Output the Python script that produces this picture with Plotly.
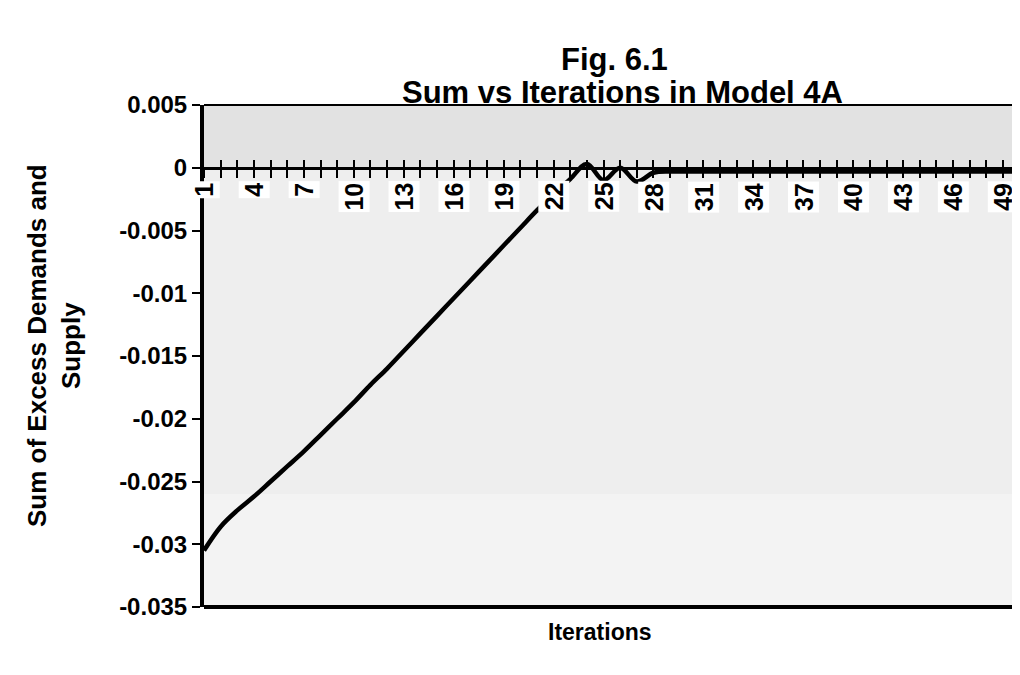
import plotly.graph_objects as go

# ---- data ----
iterations = list(range(1, 51))
sum_excess = [
    -0.0305, -0.0286, -0.0273, -0.0262, -0.0250, -0.0238, -0.0226, -0.0213, -0.0200, -0.0187,
    -0.0173, -0.0160, -0.0146, -0.0132, -0.0118, -0.0104, -0.0090, -0.0076, -0.0062, -0.0048,
    -0.0034, -0.0021, -0.0009, 0.0003, -0.0010, 0.0000, -0.0011, -0.0004, -0.0003, -0.0003,
    -0.0003, -0.0003, -0.0003, -0.0003, -0.0003, -0.0003, -0.0003, -0.0003, -0.0003, -0.0003,
    -0.0003, -0.0003, -0.0003, -0.0003, -0.0003, -0.0003, -0.0003, -0.0003, -0.0003, -0.0003,
]
x_tick_labels = ["1", "4", "7", "10", "13", "16", "19", "22", "25", "28", "31", "34",
                 "37", "40", "43", "46", "49"]
y_tick_values = [0.005, 0, -0.005, -0.01, -0.015, -0.02, -0.025, -0.03, -0.035]
y_tick_labels = ["0.005", "0", "-0.005", "-0.01", "-0.015", "-0.02", "-0.025", "-0.03", "-0.035"]

title_line1 = "Fig. 6.1"
title_line2 = "Sum vs Iterations in Model 4A"
x_title = "Iterations"
y_title = "Sum of Excess Demands and<br>Supply"

FONT = "Liberation Sans, Arial, sans-serif"
Y_MIN, Y_MAX = -0.035, 0.005
X_MIN, X_MAX = 1, 50.5

# page is drawn with an 8px body margin; layout values are figure pixels
ML, MT, MB, MR = 196, 97, 76, 0
W, H = 1020, 675
plot_w = W - ML - MR
plot_h = H - MT - MB

fig = go.Figure()

fig.add_trace(go.Scatter(
    x=iterations, y=sum_excess, mode="lines",
    line=dict(color="black", width=4.5, shape="spline", smoothing=1.0),
    showlegend=False, hoverinfo="x+y",
))

zero_pos = (0 - Y_MIN) / (Y_MAX - Y_MIN)

fig.update_layout(
    width=W, height=H,
    margin=dict(l=ML, r=MR, t=MT, b=MB, pad=0),
    paper_bgcolor="white",
    plot_bgcolor="#eeeeee",
    font=dict(family=FONT, color="black"),
    xaxis=dict(
        range=[X_MIN, X_MAX], anchor="free", position=zero_pos,
        showgrid=False, zeroline=False,
        showline=True, linecolor="black", linewidth=3,
        tickmode="linear", tick0=1, dtick=3,
        ticks="outside", ticklen=8, tickwidth=2, tickcolor="black",
        showticklabels=False,
        minor=dict(dtick=1, tick0=1, ticks="outside", ticklen=8, tickwidth=2, tickcolor="black"),
    ),
    xaxis2=dict(
        range=[X_MIN, X_MAX], anchor="free", position=zero_pos, overlaying="x",
        showgrid=False, zeroline=False, showline=False,
        tickmode="linear", tick0=1, dtick=1,
        ticks="inside", ticklen=8, tickwidth=2, tickcolor="black",
        showticklabels=False,
    ),
    yaxis=dict(
        range=[Y_MIN, Y_MAX], showgrid=False, zeroline=False,
        showline=True, linecolor="black", linewidth=4,
        tickmode="array", tickvals=y_tick_values, ticktext=y_tick_labels,
        ticks="outside", ticklen=8, tickwidth=2, tickcolor="black",
        tickfont=dict(size=24, family=FONT, weight="bold"),
    ),
)

fig.add_trace(go.Scatter(x=[X_MIN], y=[None], xaxis="x2", showlegend=False, hoverinfo="skip"))

# background shading
fig.add_shape(type="rect", xref="x domain", yref="y", x0=0, x1=1, y0=0, y1=Y_MAX,
              fillcolor="#e2e2e2", line_width=0, layer="below")
fig.add_shape(type="rect", xref="x domain", yref="y", x0=0, x1=1, y0=Y_MIN, y1=-0.026,
              fillcolor="#f3f3f3", line_width=0, layer="below")

# plot area border: top and bottom
fig.add_shape(type="line", xref="x domain", yref="y domain", x0=0, x1=1, y0=1, y1=1,
              line=dict(color="black", width=2))
fig.add_shape(type="line", xref="x domain", yref="y domain", x0=0, x1=1, y0=0, y1=0,
              line=dict(color="black", width=4))

# x tick labels: white-backed rotated labels hanging under the zero axis
for lab in x_tick_labels:
    fig.add_annotation(
        x=int(lab), y=0, xref="x", yref="y", text=lab, showarrow=False,
        textangle=-90, xanchor="center", yanchor="top", yshift=-13,
        bgcolor="white", borderpad=1,
        font=dict(size=25, family=FONT, weight="bold", color="black"),
    )


def page_to_paper(px, py):
    fx, fy = px - 8, py - 8
    return (fx - ML) / plot_w, 1 - (fy - MT) / plot_h


for text, (px, py), size, angle in [
    (title_line1, (614, 59), 31, 0),
    (title_line2, (622, 92), 31, 0),
    (x_title, (600, 632), 23, 0),
    (y_title, (54, 346), 26, -90),
]:
    ax, ay = page_to_paper(px, py)
    fig.add_annotation(x=ax, y=ay, xref="paper", yref="paper", text=text, showarrow=False,
                       xanchor="center", yanchor="middle", textangle=angle,
                       font=dict(size=size, family=FONT, weight="bold"))

fig.write_html("out.html")
